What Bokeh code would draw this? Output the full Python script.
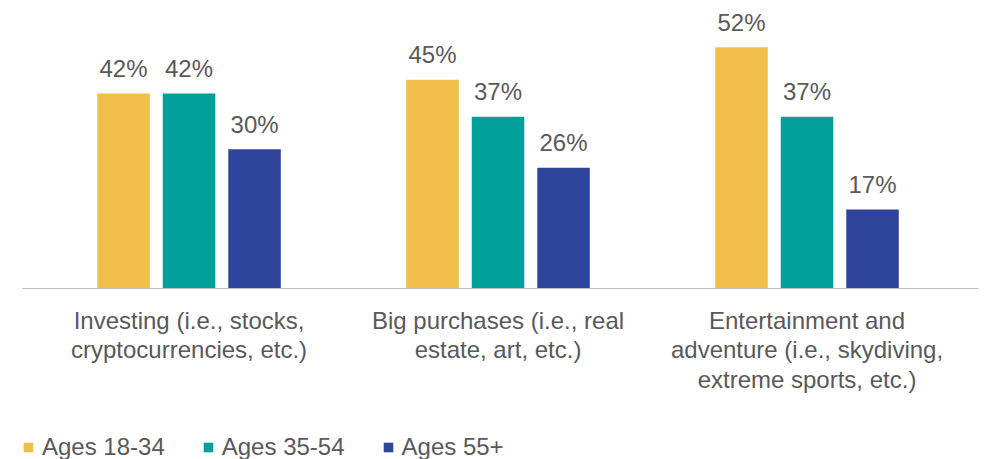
from bokeh.plotting import figure
from bokeh.layouts import column
from bokeh.models import ColumnDataSource, Range1d, FixedTicker, Legend, LegendItem
from bokeh.core.properties import value
from bokeh.embed import file_html
from bokeh.resources import INLINE

categories = ["Investing (i.e., stocks,\ncryptocurrencies, etc.)",
              "Big purchases (i.e., real\nestate, art, etc.)",
              "Entertainment and\nadventure (i.e., skydiving,\nextreme sports, etc.)"]
series = ["Ages 18-34", "Ages 35-54", "Ages 55+"]
ages_18_34 = [42, 45, 52]
ages_35_54 = [42, 37, 37]
ages_55_plus = [30, 26, 17]
colors = ["#F0BE4A", "#00A09A", "#2E459B"]
offsets = [-0.212, 0.0, 0.212]

FONT = "Liberation Sans"
TXT = "#595959"

p = figure(width=985, height=425, output_backend="svg", toolbar_location=None,
           x_range=Range1d(-0.539, 2.555), y_range=Range1d(0, 62.07),
           y_axis_location=None, min_border_left=22, min_border_right=7,
           min_border_top=0, min_border_bottom=137)
p.outline_line_color = None
p.xgrid.visible = False
p.ygrid.visible = False
p.background_fill_color = "white"
p.border_fill_color = "white"

sources = []
for vals, col, off in zip([ages_18_34, ages_35_54, ages_55_plus], colors, offsets):
    src = ColumnDataSource(dict(x=[i + off for i in range(len(categories))], top=vals,
                                lbl=[f"{v}%" for v in vals]))
    sources.append(src)
    p.vbar(x="x", top="top", bottom=0, width=0.17, source=src,
           fill_color=col, line_color=None)
    p.text(x="x", y="top", text="lbl", source=src, text_align="center",
           text_baseline="alphabetic", y_offset=-25, text_color=TXT,
           text_font=value(FONT), text_font_size="24px")

ax = p.xaxis[0]
ax.ticker = FixedTicker(ticks=list(range(len(categories))))
ax.major_label_overrides = {i: c for i, c in enumerate(categories)}
ax.major_tick_line_color = None
ax.minor_tick_line_color = None
ax.major_tick_out = 0
ax.minor_tick_out = 0
ax.axis_line_color = "#BFBFBF"
ax.axis_line_width = 1
ax.major_label_text_font = FONT
ax.major_label_text_font_size = "24px"
ax.major_label_text_color = TXT
ax.major_label_text_line_height = 1.1
ax.major_label_standoff = 18

# legend strip: shares the series sources; its y view lies above all values,
# so the bars themselves fall below the strip and only the legend shows
lg = figure(width=985, height=34, output_backend="svg", toolbar_location=None,
            x_range=Range1d(-0.539, 2.555), y_range=Range1d(100, 162.07),
            x_axis_location=None, y_axis_location=None,
            min_border_left=22, min_border_right=0, min_border_top=0, min_border_bottom=0)
lg.outline_line_color = None
lg.xgrid.visible = False
lg.ygrid.visible = False
lg.border_fill_color = "white"
lg.background_fill_color = "white"
lg_renderers = [lg.vbar(x="x", top="top", bottom=0, width=0.17, source=s,
                        fill_color=c, line_color=None)
                for s, c in zip(sources, colors)]
legend = Legend(items=[LegendItem(label=s, renderers=[r]) for s, r in zip(series, lg_renderers)],
                orientation="horizontal", location=(0, -2),
                padding=0, margin=0, spacing=37, label_standoff=8,
                glyph_width=12, glyph_height=12,
                label_text_font=FONT, label_text_font_size="24px",
                label_text_color=TXT, border_line_color=None,
                background_fill_alpha=0)
lg.add_layout(legend, "center")

layout = column(p, lg, spacing=0)
open("out.html", "w").write(file_html(layout, INLINE))
